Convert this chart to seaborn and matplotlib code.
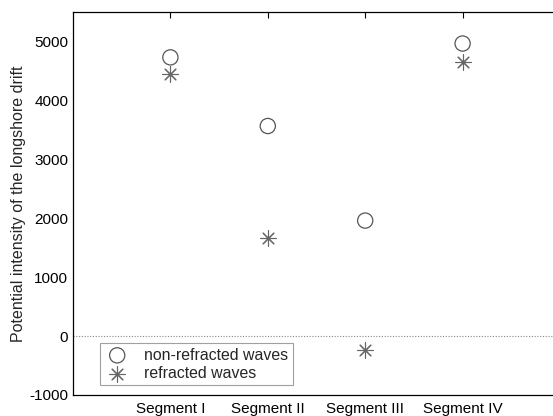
import numpy as np
import pandas as pd
import matplotlib
matplotlib.use("Agg")
import matplotlib.pyplot as plt
import seaborn as sns

segments = ["Segment I", "Segment II", "Segment III", "Segment IV"]
non_refracted = [4730, 3565, 1960, 4965]
refracted = [4440, 1660, -230, 4655]

sns.set_style("white")
plt.rcParams["font.family"] = ["Liberation Sans", "DejaVu Sans"]
plt.rcParams["axes.unicode_minus"] = False

df = pd.DataFrame({
    "pos": np.arange(1, len(segments) + 1),
    "non-refracted waves": non_refracted,
    "refracted waves": refracted,
})

fig = plt.figure(figsize=(5.53, 4.16), dpi=100)
ax = fig.add_axes([73 / 553, 1 - 395 / 416, 487 / 553, 383 / 416])

ax.axhline(0, color="#888888", linestyle=(0, (1, 1.5)), linewidth=0.8, zorder=1)

sns.scatterplot(data=df, x="pos", y="non-refracted waves", ax=ax, marker="o",
                s=120, facecolor="none", edgecolor="#555555", linewidth=0.9,
                label="non-refracted waves", zorder=3)
sns.scatterplot(data=df, x="pos", y="refracted waves", ax=ax, marker=(8, 2, 0),
                s=120, color="#666666", edgecolor="#666666", linewidth=0.8,
                label="refracted waves", zorder=3)

ax.set_xlim(0, 5)
ax.set_ylim(-1000, 5500)
ax.set_xticks(df["pos"])
ax.set_xticklabels(segments)
ax.set_yticks(range(-1000, 5001, 1000))
ax.set_xlabel("")
ax.set_ylabel("Potential intensity of the longshore drift", fontsize=11.5, labelpad=2)
ax.tick_params(axis="both", labelsize=11, colors="black", direction="in",
               length=4, width=0.8, top=True, pad=4)
ax.tick_params(axis="y", length=0, pad=3.5)
ax.tick_params(axis="x", pad=5)
for side in ["left", "bottom", "top", "right"]:
    ax.spines[side].set_color("black")
    ax.spines[side].set_linewidth(0.9)

leg = ax.legend(loc="lower left", bbox_to_anchor=(0.055, 0.025), frameon=True,
                fancybox=False, fontsize=11.4, handletextpad=0.9, borderpad=0.3,
                labelspacing=0.2, handlelength=1.6, borderaxespad=0)
leg.get_frame().set_edgecolor("#888888")
leg.get_frame().set_linewidth(0.8)

fig.savefig("out.png", dpi=100)
